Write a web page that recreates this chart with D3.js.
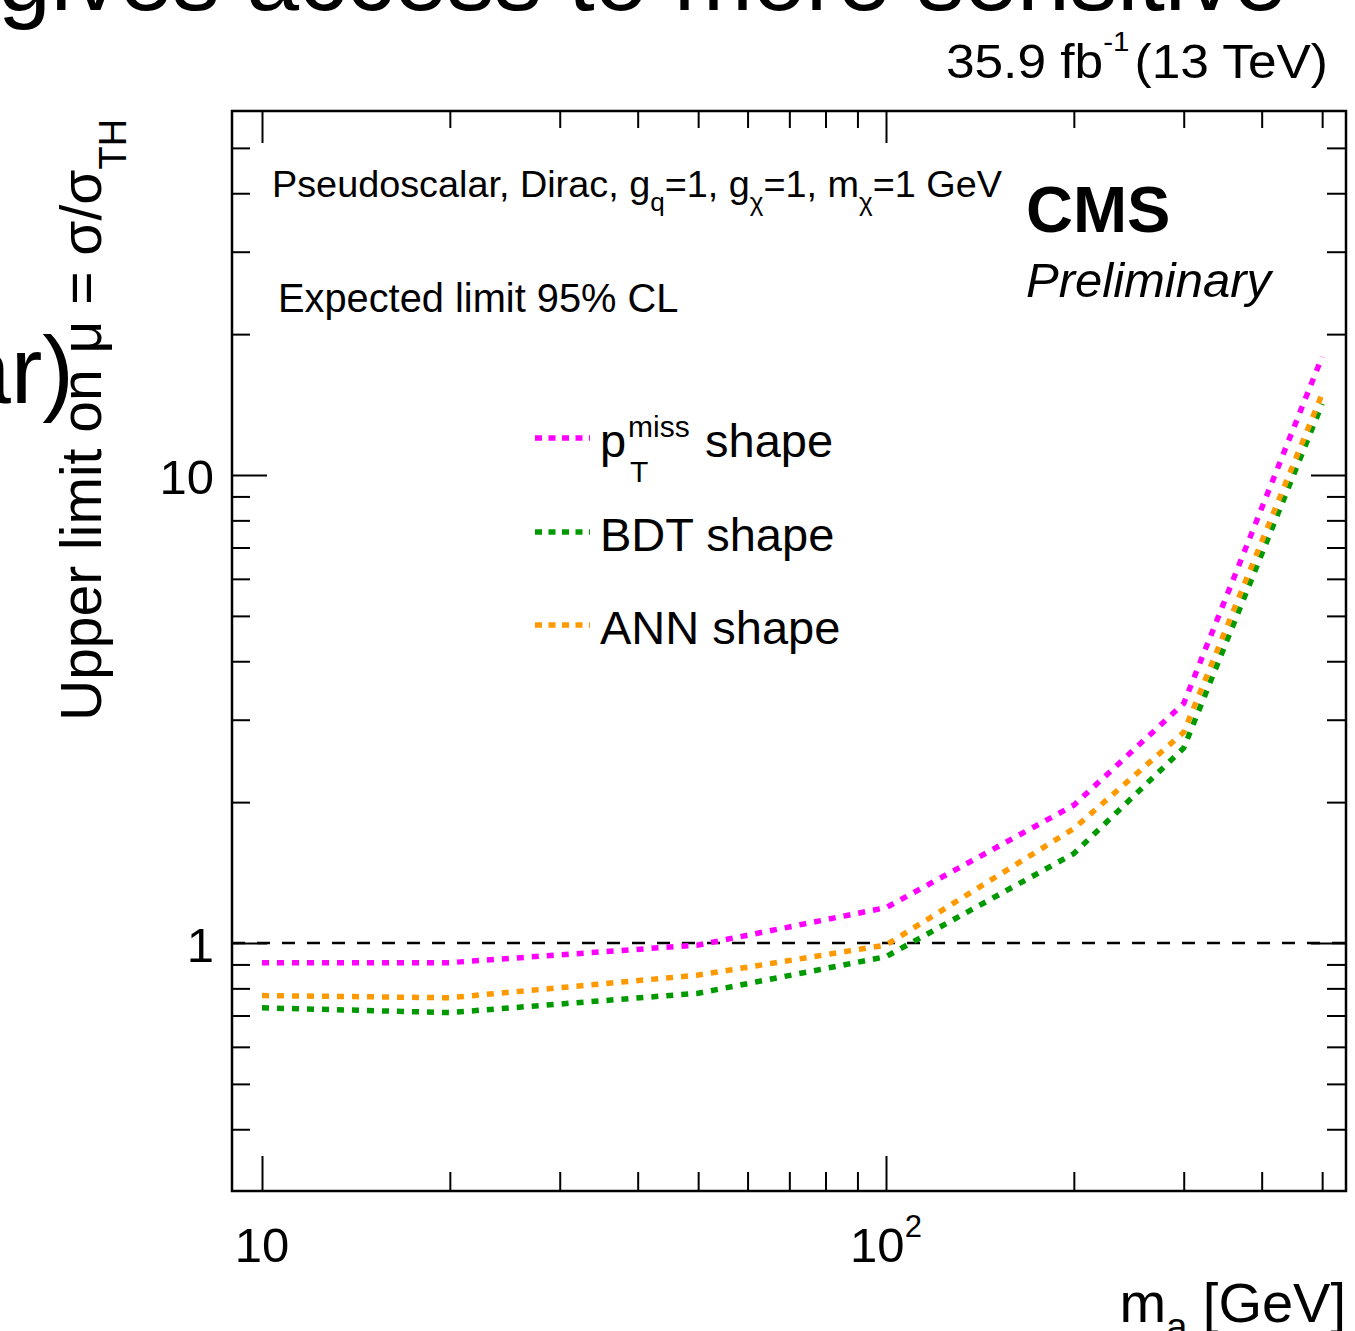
<!DOCTYPE html>
<html>
<head>
<meta charset="utf-8">
<script src="https://cdn.jsdelivr.net/npm/d3@7"></script>
<style>
  body { margin: 0; background: #fff; }
  text { font-family: "Liberation Sans", Arial, Helvetica, sans-serif; fill: #000; }
</style>
</head>
<body>
<div id="chart"></div>
<script>
// expected limits, mediator mass points in GeV
var massPoints = [10, 20, 50, 100, 200, 300, 500]
var ptmissLimit = [0.908, 0.908, 0.99, 1.19, 1.97, 3.25, 17.9]
var bdtLimit = [0.727, 0.71, 0.781, 0.935, 1.553, 2.61, 14.2]
var annLimit = [0.772, 0.764, 0.854, 0.99, 1.756, 2.82, 14.9]

var seriesNames = ["ptmiss", "BDT", "ANN"]
var seriesColors = ["#ff00ff", "#009a00", "#ff9900"]

var xMajorTicks = [10, 100]
var xMinorTicks = [20, 30, 40, 50, 60, 70, 80, 90, 200, 300, 400, 500]
var yMajorTicks = [1, 10]
var yMinorTicks = [0.4, 0.5, 0.6, 0.7, 0.8, 0.9, 2, 3, 4, 5, 6, 7, 8, 9, 20, 30, 40, 50]
var referenceLine = 1

var svgSize = { width: 1355, height: 1331 }
var frameBox = { left: 232, right: 1346, top: 111, bottom: 1191 }

var svg = d3.select("#chart").append("svg")
    .attr("width", svgSize.width)
    .attr("height", svgSize.height)

var xScale = d3.scaleLog()
    .domain([8.952, 546.0])
    .range([frameBox.left, frameBox.right])
var yScale = d3.scaleLog()
    .domain([0.2952, 59.95])
    .range([frameBox.bottom, frameBox.top])

// slide text that sits behind the figure
svg.append("text")
    .attr("x", -2).attr("y", 10)
    .style("font-size", "95px")
    .text("gives access to more sensitive")

// axes: ticks point into the frame on all four sides
function tickAxis(axisFn, scale, values, size, transform) {
    var g = svg.append("g")
        .attr("transform", transform)
        .call(axisFn(scale).tickValues(values).tickSize(size).tickFormat(""))
    g.select(".domain").remove()
    g.selectAll("line").attr("stroke", "#000").attr("stroke-width", 2)
}
tickAxis(d3.axisTop, xScale, xMajorTicks, 35, `translate(0, ${frameBox.bottom})`)
tickAxis(d3.axisTop, xScale, xMinorTicks, 19, `translate(0, ${frameBox.bottom})`)
tickAxis(d3.axisBottom, xScale, xMajorTicks, 32, `translate(0, ${frameBox.top})`)
tickAxis(d3.axisBottom, xScale, xMinorTicks, 17, `translate(0, ${frameBox.top})`)
tickAxis(d3.axisRight, yScale, yMajorTicks, 35, `translate(${frameBox.left}, 0)`)
tickAxis(d3.axisRight, yScale, yMinorTicks, 18, `translate(${frameBox.left}, 0)`)
tickAxis(d3.axisLeft, yScale, yMajorTicks, 35, `translate(${frameBox.right}, 0)`)
tickAxis(d3.axisLeft, yScale, yMinorTicks, 19, `translate(${frameBox.right}, 0)`)

// mu = 1 reference
svg.append("line")
    .attr("x1", frameBox.left).attr("x2", frameBox.right)
    .attr("y1", yScale(referenceLine)).attr("y2", yScale(referenceLine))
    .attr("stroke", "#000")
    .attr("stroke-width", 2.5)
    .attr("stroke-dasharray", "13 12")

// limit curves
var line = d3.line()
    .x((d, i) => xScale(massPoints[i]))
    .y(d => yScale(d))
var allSeries = [ptmissLimit, bdtLimit, annLimit]
svg.append("g").selectAll("path").data(allSeries)
    .enter().append("path")
    .attr("d", line)
    .attr("fill", "none")
    .attr("stroke", (d, i) => seriesColors[i])
    .attr("stroke-width", 5.5)
    .attr("stroke-dasharray", "7 8")

svg.append("rect")
    .attr("x", frameBox.left).attr("y", frameBox.top)
    .attr("width", frameBox.right - frameBox.left)
    .attr("height", frameBox.bottom - frameBox.top)
    .attr("fill", "none")
    .attr("stroke", "#000")
    .attr("stroke-width", 2.5)

// tick labels
svg.append("text").attr("x", xScale(10)).attr("y", 1262)
    .attr("text-anchor", "middle").style("font-size", "49px").text("10")
var x100 = svg.append("text").attr("x", xScale(100)).attr("y", 1262)
    .attr("text-anchor", "middle").style("font-size", "49px")
x100.append("tspan").text("10")
x100.append("tspan").attr("dy", -25).style("font-size", "31px").text("2")

svg.append("text").attr("x", 214).attr("y", yScale(10) + 19)
    .attr("text-anchor", "end").style("font-size", "49px").text("10")
svg.append("text").attr("x", 214).attr("y", yScale(1) + 19)
    .attr("text-anchor", "end").style("font-size", "49px").text("1")

// axis titles
var xt = svg.append("text")
    .attr("transform", "translate(1346, 1322)")
    .attr("text-anchor", "end").style("font-size", "56px")
xt.append("tspan").text("m")
xt.append("tspan").attr("dy", 18).style("font-size", "38px").text("a")
xt.append("tspan").attr("dy", -18).text(" [GeV]")

var yt = svg.append("text")
    .attr("transform", "translate(101, 721) rotate(-90)")
    .style("font-size", "57px")
yt.append("tspan").text("Upper limit on \u03bc = \u03c3/\u03c3")
yt.append("tspan").attr("dy", 25).style("font-size", "38px").text("TH")

// header (ROOT text runs a little wider than Liberation Sans)
var lumi = svg.append("text")
    .attr("transform", "translate(1328, 78) scale(1.05, 1)")
    .attr("text-anchor", "end").style("font-size", "49px")
lumi.append("tspan").text("35.9 fb")
lumi.append("tspan").attr("dy", -27).style("font-size", "28px").text("-1")
lumi.append("tspan").attr("dy", 27).attr("dx", 5).text("(13 TeV)")

svg.append("text").attr("x", 1026).attr("y", 232)
    .style("font-size", "65px").style("font-weight", "bold").text("CMS")
svg.append("text").attr("x", 1026).attr("y", 297)
    .style("font-size", "49px").style("font-style", "italic").text("Preliminary")

var model = svg.append("text").attr("x", 272).attr("y", 197).style("font-size", "37.8px")
model.append("tspan").text("Pseudoscalar, Dirac, g")
model.append("tspan").attr("dy", 14).style("font-size", "26px").text("q")
model.append("tspan").attr("dy", -14).text("=1, g")
model.append("tspan").attr("dy", 14).style("font-size", "26px").text("\u03c7")
model.append("tspan").attr("dy", -14).text("=1, m")
model.append("tspan").attr("dy", 14).style("font-size", "26px").text("\u03c7")
model.append("tspan").attr("dy", -14).text("=1 GeV")

svg.append("text").attr("x", 278).attr("y", 312)
    .style("font-size", "39.8px").text("Expected limit 95% CL")

// legend
var legendY = [438, 532, 625]
var legend = svg.append("g").selectAll("g").data(seriesNames)
    .enter().append("g")
    .attr("transform", (d, i) => `translate(0, ${legendY[i]})`)
legend.append("line")
    .attr("x1", 535).attr("x2", 590)
    .attr("stroke", (d, i) => seriesColors[i])
    .attr("stroke-width", 5.5)
    .attr("stroke-dasharray", "7 6.5")
legend.each(function (d) {
    var t = d3.select(this).append("text").attr("x", 600).attr("y", 19).style("font-size", "47px")
    if (d === "ptmiss") {
        t.append("tspan").text("p")
        t.append("tspan").attr("x", 628).attr("dy", -20).style("font-size", "30px").text("miss")
        t.append("tspan").attr("x", 630).attr("dy", 45).style("font-size", "30px").text("T")
        t.append("tspan").attr("x", 705).attr("dy", -25).text("shape")
    } else {
        t.text(d + " shape")
    }
})

// clipped slide text overlapping the y title
svg.append("text").attr("x", 74).attr("y", 403)
    .attr("text-anchor", "end").style("font-size", "95px").text("ar)")
</script>
</body>
</html>
